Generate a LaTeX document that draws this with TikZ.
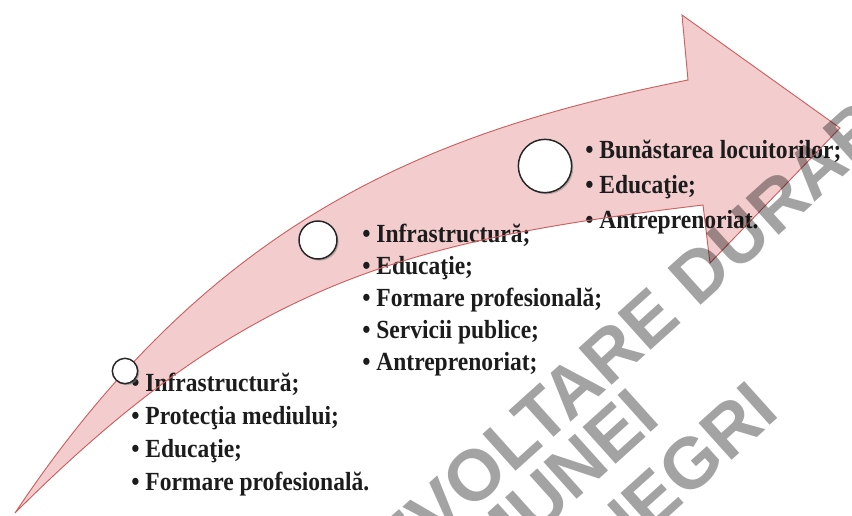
\documentclass[tikz,border=0pt]{standalone}
\usepackage{fontspec}
\setmainfont{Liberation Serif}
\newfontfamily\listfont[FakeStretch=0.9]{Liberation Serif}
\newfontfamily\wmfont{Liberation Sans}
\usetikzlibrary{shadows}
\definecolor{arrowfill}{RGB}{243,205,206}
\definecolor{arrowline}{RGB}{205,95,95}
\definecolor{txt}{RGB}{28,28,28}
\tikzset{
  listbox/.style={anchor=west, align=left, inner sep=0pt, text=txt,
    font=\listfont\bfseries\fontsize{19.6}{#1}\selectfont},
  stagecircle/.style={circle, draw=black!85, line width=1.1pt, fill=white, inner sep=0pt,
    minimum size=#1, drop shadow={shadow xshift=1.2pt, shadow yshift=-1.2pt, opacity=0.55}},
  wmtext/.style={anchor=base west, rotate=42, inner sep=0pt, text=black, opacity=0.36,
    font=\wmfont\bfseries\fontsize{54}{54}\selectfont}
}
\begin{document}
\begin{tikzpicture}[x=0.75pt,y=-0.75pt]
\useasboundingbox (0,0) rectangle (852,515);
\clip (0,0) rectangle (852,515);
% arrow body
\def\arrowpath{(15,513) .. controls (215,213) and (438,130) .. (688,80)
  -- (682,15) -- (840,128) -- (710,263) -- (703,205)
  .. controls (403,241) and (245,283) .. (15,513) -- cycle}
\fill[arrowfill] \arrowpath;
% lists
\node[listbox=24.75pt] (left) at (131,435) {• Infrastructură;\\• Protecţia mediului;\\• Educaţie;\\• Formare profesională.};
\node[listbox=24pt] (mid) at (362,300) {• Infrastructură;\\• Educaţie;\\• Formare profesională;\\• Servicii publice;\\• Antreprenoriat;};
\node[listbox=26pt] (right) at (585,187) {• Bunăstarea locuitorilor;\\• Educaţie;\\• Antreprenoriat.};
\draw[arrowline, line width=0.7pt] \arrowpath;
% stage circles
\node[stagecircle=19pt] (c1) at (125,371) {};
\node[stagecircle=28.5pt] (c2) at (318,240) {};
\node[stagecircle=40pt] (c3) at (545,166) {};
% watermark
\node[wmtext] (w1) at (328,641) {DEZVOLTARE DURABILĂ};
\node[wmtext] (w2) at (410,650) {COMUNEI};
\node[wmtext] (w3) at (612,568) {NEGRI};
\end{tikzpicture}
\end{document}
